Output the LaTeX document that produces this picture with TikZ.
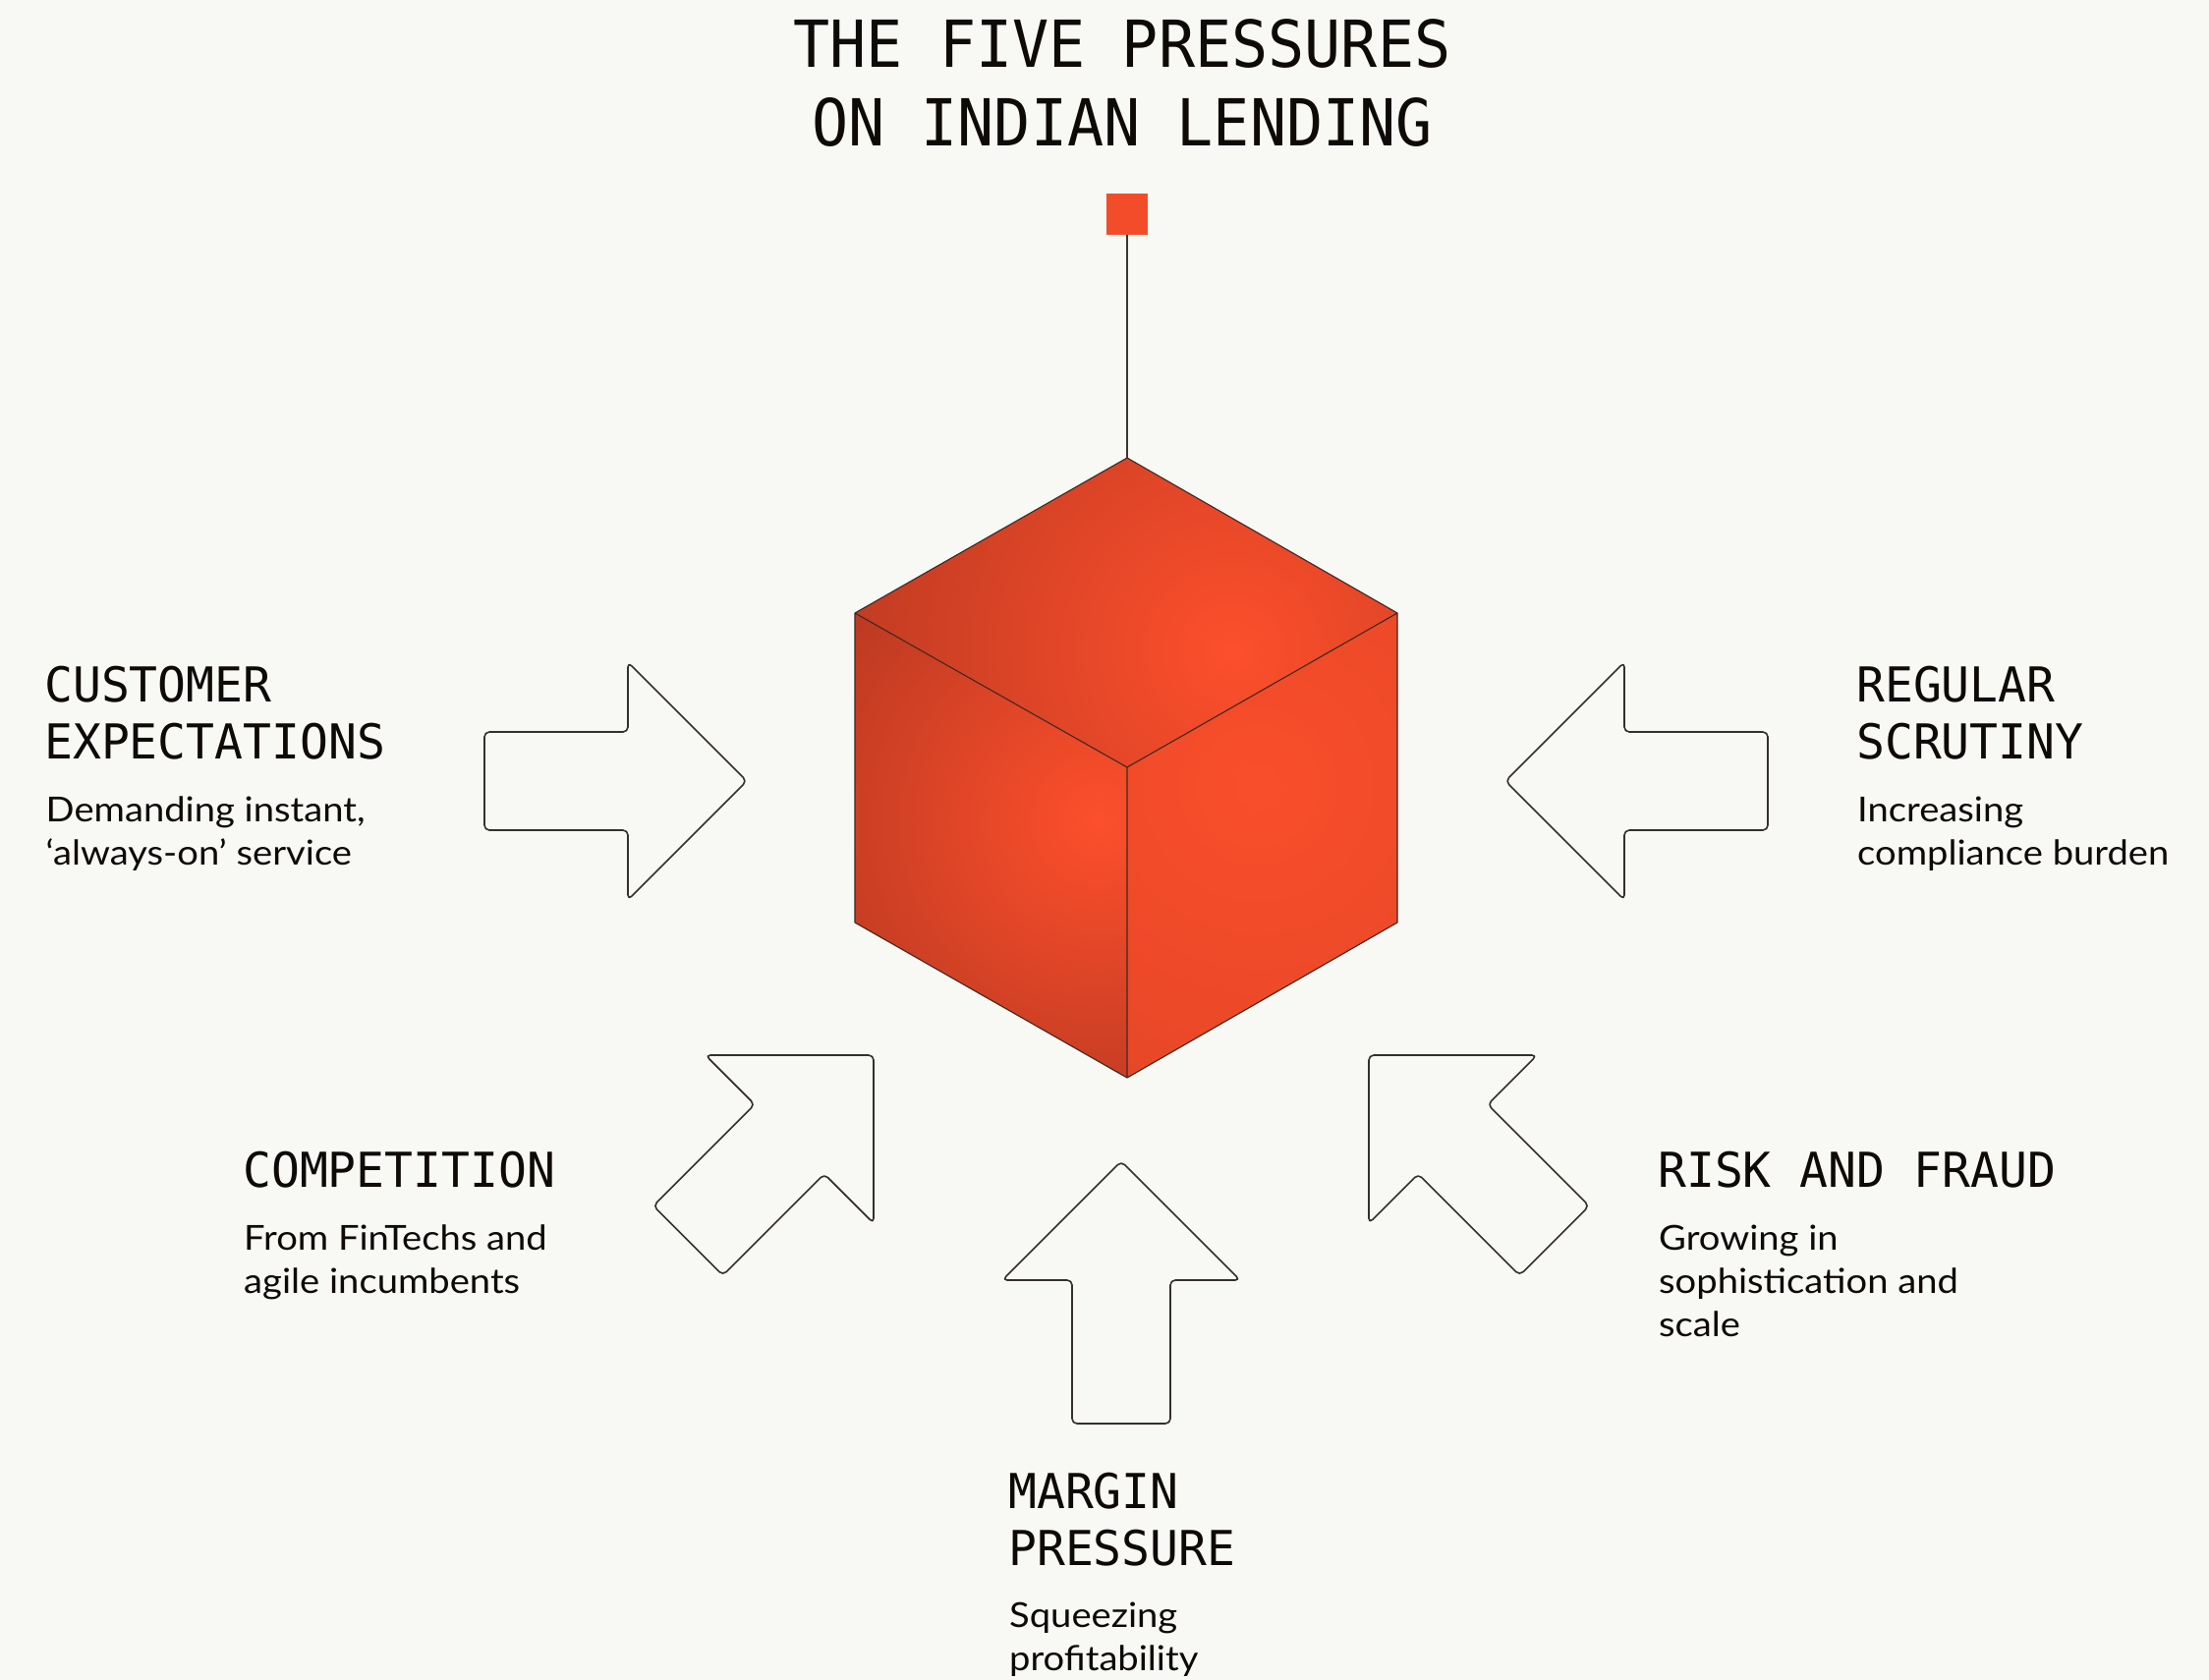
\documentclass[tikz,border=0pt]{standalone}
\usepackage{fontspec}
\newfontfamily\titlef[FakeStretch=0.935]{DejaVu Sans Mono}
\newfontfamily\monof[FakeStretch=0.98]{DejaVu Sans Mono}
\newfontfamily\bodyf[FakeStretch=1.09]{Lato}
\definecolor{bg}{RGB}{248,248,244}
\definecolor{ink}{RGB}{14,10,6}
\definecolor{arrowline}{RGB}{52,48,44}
\definecolor{flagred}{RGB}{242,76,42}
\definecolor{edgecol}{RGB}{62,40,34}
\definecolor{stemcol}{RGB}{58,54,50}
\definecolor{hotA}{RGB}{253,79,44}
\definecolor{darkTop}{RGB}{146,44,27}
\definecolor{darkLeft}{RGB}{134,40,25}
\definecolor{hotR}{RGB}{249,78,43}
\definecolor{darkRight}{RGB}{204,61,35}
\pgfdeclareradialshading{topsh}{\pgfpoint{0bp}{0bp}}{color(0bp)=(hotA); color(39bp)=(darkTop); color(71bp)=(darkTop)}
\pgfdeclareradialshading{leftsh}{\pgfpoint{0bp}{0bp}}{color(0bp)=(hotA); color(50bp)=(darkLeft); color(71bp)=(darkLeft)}
\pgfdeclareradialshading{rightsh}{\pgfpoint{0bp}{0bp}}{color(0bp)=(hotR); color(50bp)=(darkRight); color(71bp)=(darkRight)}
\tikzset{
  titletext/.style={anchor=base, inner sep=0pt, text=ink, font=\titlef\fontsize{66}{80}\selectfont},
  headtext/.style={anchor=base west, inner sep=0pt, text=ink, font=\monof\fontsize{49}{58}\selectfont},
  bodytext/.style={anchor=base west, inner sep=0pt, text=ink, font=\bodyf\fontsize{35}{44}\selectfont},
  pressarrow/.style={draw=arrowline, line width=1.6pt, rounded corners=5pt, line join=round},
  cubeedge/.style={draw=edgecol, line width=1.1pt, line join=round},
  stemline/.style={draw=stemcol, line width=1.6pt},
  parrow/.pic={\draw[pressarrow] (-267,0) -- (-267,50) -- (-121,50) -- (-121,121) -- (0,0) -- (-121,-121) -- (-121,-50) -- (-267,-50) -- cycle;}
}
\begin{document}
\begin{tikzpicture}[x=1pt,y=-1pt]
\useasboundingbox (0,0) rectangle (2248,1710);
\fill[bg] (0,0) rectangle (2248,1710);

% title
\node[titletext] (title1) at (1142,68.5) {THE FIVE PRESSURES};
\node[titletext] (title2) at (1142,148.5) {ON INDIAN LENDING};

% cube corners
\coordinate (cT) at (1147,466);
\coordinate (cL) at (870,624);
\coordinate (cR) at (1422,624);
\coordinate (cM) at (1147,781);
\coordinate (cLB) at (870,939);
\coordinate (cRB) at (1422,939);
\coordinate (cB) at (1147,1097);

% faces
\begin{scope}
  \clip (cT) -- (cR) -- (cM) -- (cL) -- cycle;
  \shade[shading=topsh] (804,212) rectangle (1704,1112);
\end{scope}
\begin{scope}
  \clip (cL) -- (cM) -- (cB) -- (cLB) -- cycle;
  \shade[shading=leftsh] (823,540) rectangle (1413,1130);
\end{scope}
\begin{scope}
  \clip (cM) -- (cR) -- (cRB) -- (cB) -- cycle;
  \shade[shading=rightsh] (880,400) rectangle (1680,1200);
\end{scope}
\draw[cubeedge] (cT) -- (cR) -- (cRB) -- (cB) -- (cLB) -- (cL) -- cycle;
\draw[cubeedge] (cL) -- (cM) -- (cR) (cM) -- (cB);

% flag and stem
\node[fill=flagred, minimum size=42pt, inner sep=0pt] (flag) at (1147,218) {};
\draw[stemline] (flag.south) -- (cT);

% arrows
\pic (arrowcust) at (760,795) {parrow};
\pic[rotate=180] (arrowreg) at (1532,795) {parrow};
\pic[rotate=45] (arrowcomp) at (889,1074) {parrow};
\pic[rotate=135] (arrowrisk) at (1393,1074) {parrow};
\pic[rotate=90] (arrowmarg) at (1141,1182) {parrow};

% customer expectations
\node[headtext] (custh1) at (45,714.5) {CUSTOMER};
\node[headtext] (custh2) at (45,772.5) {EXPECTATIONS};
\node[bodytext] (custb1) at (46.5,836) {Demanding instant,};
\node[bodytext] (custb2) at (46.5,880) {‘always-on’ service};

% regular scrutiny
\node[headtext] (regh1) at (1889,714.5) {REGULAR};
\node[headtext] (regh2) at (1889,772.5) {SCRUTINY};
\node[bodytext] (regb1) at (1890,836) {Increasing};
\node[bodytext] (regb2) at (1890,880) {compliance burden};

% competition
\node[headtext] (comph1) at (247,1208.5) {COMPETITION};
\node[bodytext] (compb1) at (248,1272) {From FinTechs and};
\node[bodytext] (compb2) at (248,1316) {agile incumbents};

% risk and fraud
\node[headtext] (riskh1) at (1687,1208.5) {RISK AND FRAUD};
\node[bodytext] (riskb1) at (1688,1272) {Growing in};
\node[bodytext] (riskb2) at (1688,1316) {sophistication and};
\node[bodytext] (riskb3) at (1688,1360) {scale};

% margin pressure
\node[headtext] (margh1) at (1026,1535) {MARGIN};
\node[headtext] (margh2) at (1026,1593) {PRESSURE};
\node[bodytext] (margb1) at (1027,1656) {Squeezing};
\node[bodytext] (margb2) at (1027,1700) {profitability};
\end{tikzpicture}
\end{document}
